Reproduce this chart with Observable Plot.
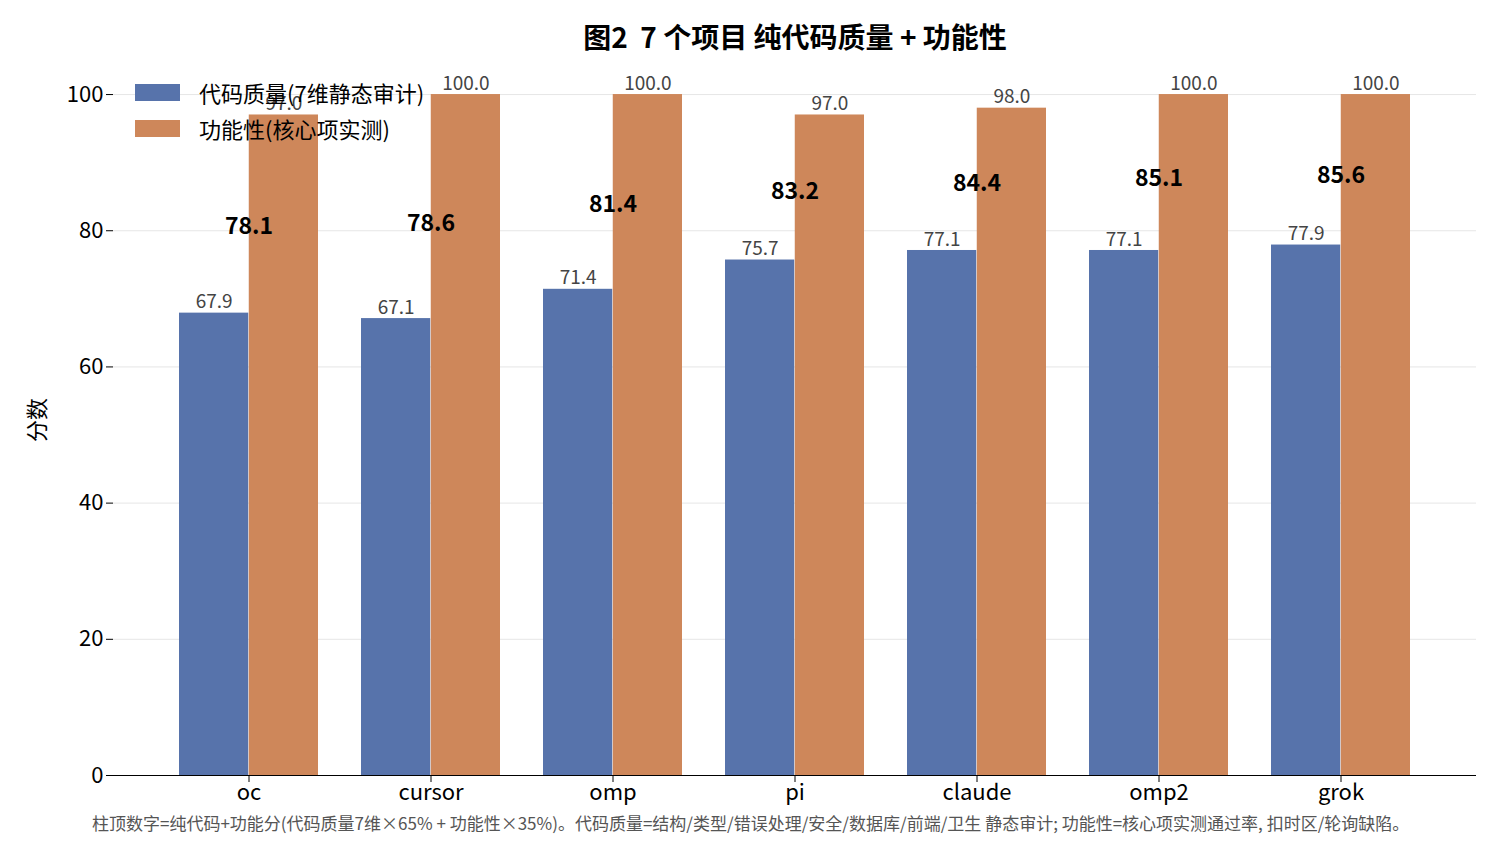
<!DOCTYPE html>
<html><head><meta charset="utf-8">
<script src="https://cdn.jsdelivr.net/npm/d3@7"></script>
<script src="https://cdn.jsdelivr.net/npm/@observablehq/plot@0.6"></script>
<style>
body{margin:0;background:#fff;font-family:"Noto Sans CJK SC","Noto Sans",sans-serif;}
#wrap{position:relative;width:1496px;height:844px;overflow:hidden;}
#title{position:absolute;top:16px;left:0;width:1590px;text-align:center;font-size:28px;font-weight:bold;}
#cap{position:absolute;top:810px;left:92px;font-size:17px;color:#555;white-space:nowrap;}
#legend{position:absolute;left:135px;top:74px;font-size:22px;}
.li{display:flex;align-items:center;height:36px;}
.sw{width:45px;height:17px;margin-right:19px;}
#chart{position:absolute;top:60px;left:0;}
</style></head><body>
<div id="wrap">
<div id="title">图2&nbsp; 7 个项目 纯代码质量 + 功能性</div>
<div id="chart"></div>
<div id="legend"></div>
<div id="cap">柱顶数字=纯代码+功能分(代码质量7维×65% + 功能性×35%)。代码质量=结构/类型/错误处理/安全/数据库/前端/卫生 静态审计; 功能性=核心项实测通过率, 扣时区/轮询缺陷。</div>
</div>
<script>
const projects = ["oc","cursor","omp","pi","claude","omp2","grok"];
const quality = [67.9,67.1,71.4,75.7,77.1,77.1,77.9];
const functionality = [97.0,100.0,100.0,97.0,98.0,100.0,100.0];
const composite = [78.1,78.6,81.4,83.2,84.4,85.1,85.6];
const seriesNames = ["代码质量(7维静态审计)","功能性(核心项实测)"];
const colors = ["#5773ab","#ce875a"];

const q = projects.map((p,i)=>({p, v:quality[i]}));
const f = projects.map((p,i)=>({p, v:functionality[i]}));
const comp = projects.map((p,i)=>({p, v:composite[i]}));
const W=1496, ML=113, MR=20, PI=0.236, PO=0.35;
const step=(W-ML-MR)/(projects.length-PI+2*PO), half=step*(1-PI)/2;

const chart = Plot.plot({
  width:W, height:755,
  marginLeft:ML, marginRight:MR, marginTop:0, marginBottom:40,
  style:{fontFamily:'"Noto Sans CJK SC","Noto Sans",sans-serif', fontSize:"22px", color:"#000"},
  x:{domain:projects, paddingInner:PI, paddingOuter:PO, label:null},
  y:{domain:[0,105], label:null},
  marks:[
    Plot.gridY([20,40,60,80,100],{stroke:"#e6e6e6", strokeOpacity:1}),
    Plot.barY(q,{x:"p", y:"v", fill:colors[0], insetRight:half}),
    Plot.barY(f,{x:"p", y:"v", fill:colors[1], insetLeft:half}),
    Plot.text(q,{x:"p", y:"v", text:d=>d.v.toFixed(1), dx:-half/2, dy:-11, fill:"#444", fontSize:19}),
    Plot.text(f,{x:"p", y:"v", text:d=>d.v.toFixed(1), dx:half/2, dy:-11, fill:"#444", fontSize:19}),
    Plot.text(comp,{x:"p", y:d=>d.v+2.5, text:d=>d.v.toFixed(1), fontWeight:"bold", fontSize:23, fill:"#000"}),
    Plot.axisY({ticks:[0,20,40,60,80,100], tickSize:7, fontSize:22, label:null}),
    Plot.axisX({tickSize:7, fontSize:22, label:null, tickPadding:2}),
    Plot.ruleX([0],{frameAnchor:"left", y1:0, y2:105, stroke:"#000"}),
    Plot.ruleY([0],{stroke:"#000"})
  ]
});
document.getElementById("chart").appendChild(chart);
d3.select(chart).append("text").attr("transform","translate(45,360) rotate(-90)").attr("text-anchor","middle")
  .style("font-size","22px").text("分数");
const leg = document.getElementById("legend");
seriesNames.forEach((n,i)=>{
  const d=document.createElement("div");d.className="li";
  d.innerHTML=`<div class="sw" style="background:${colors[i]}"></div><span>${n}</span>`;
  leg.appendChild(d);
});
</script></body></html>
